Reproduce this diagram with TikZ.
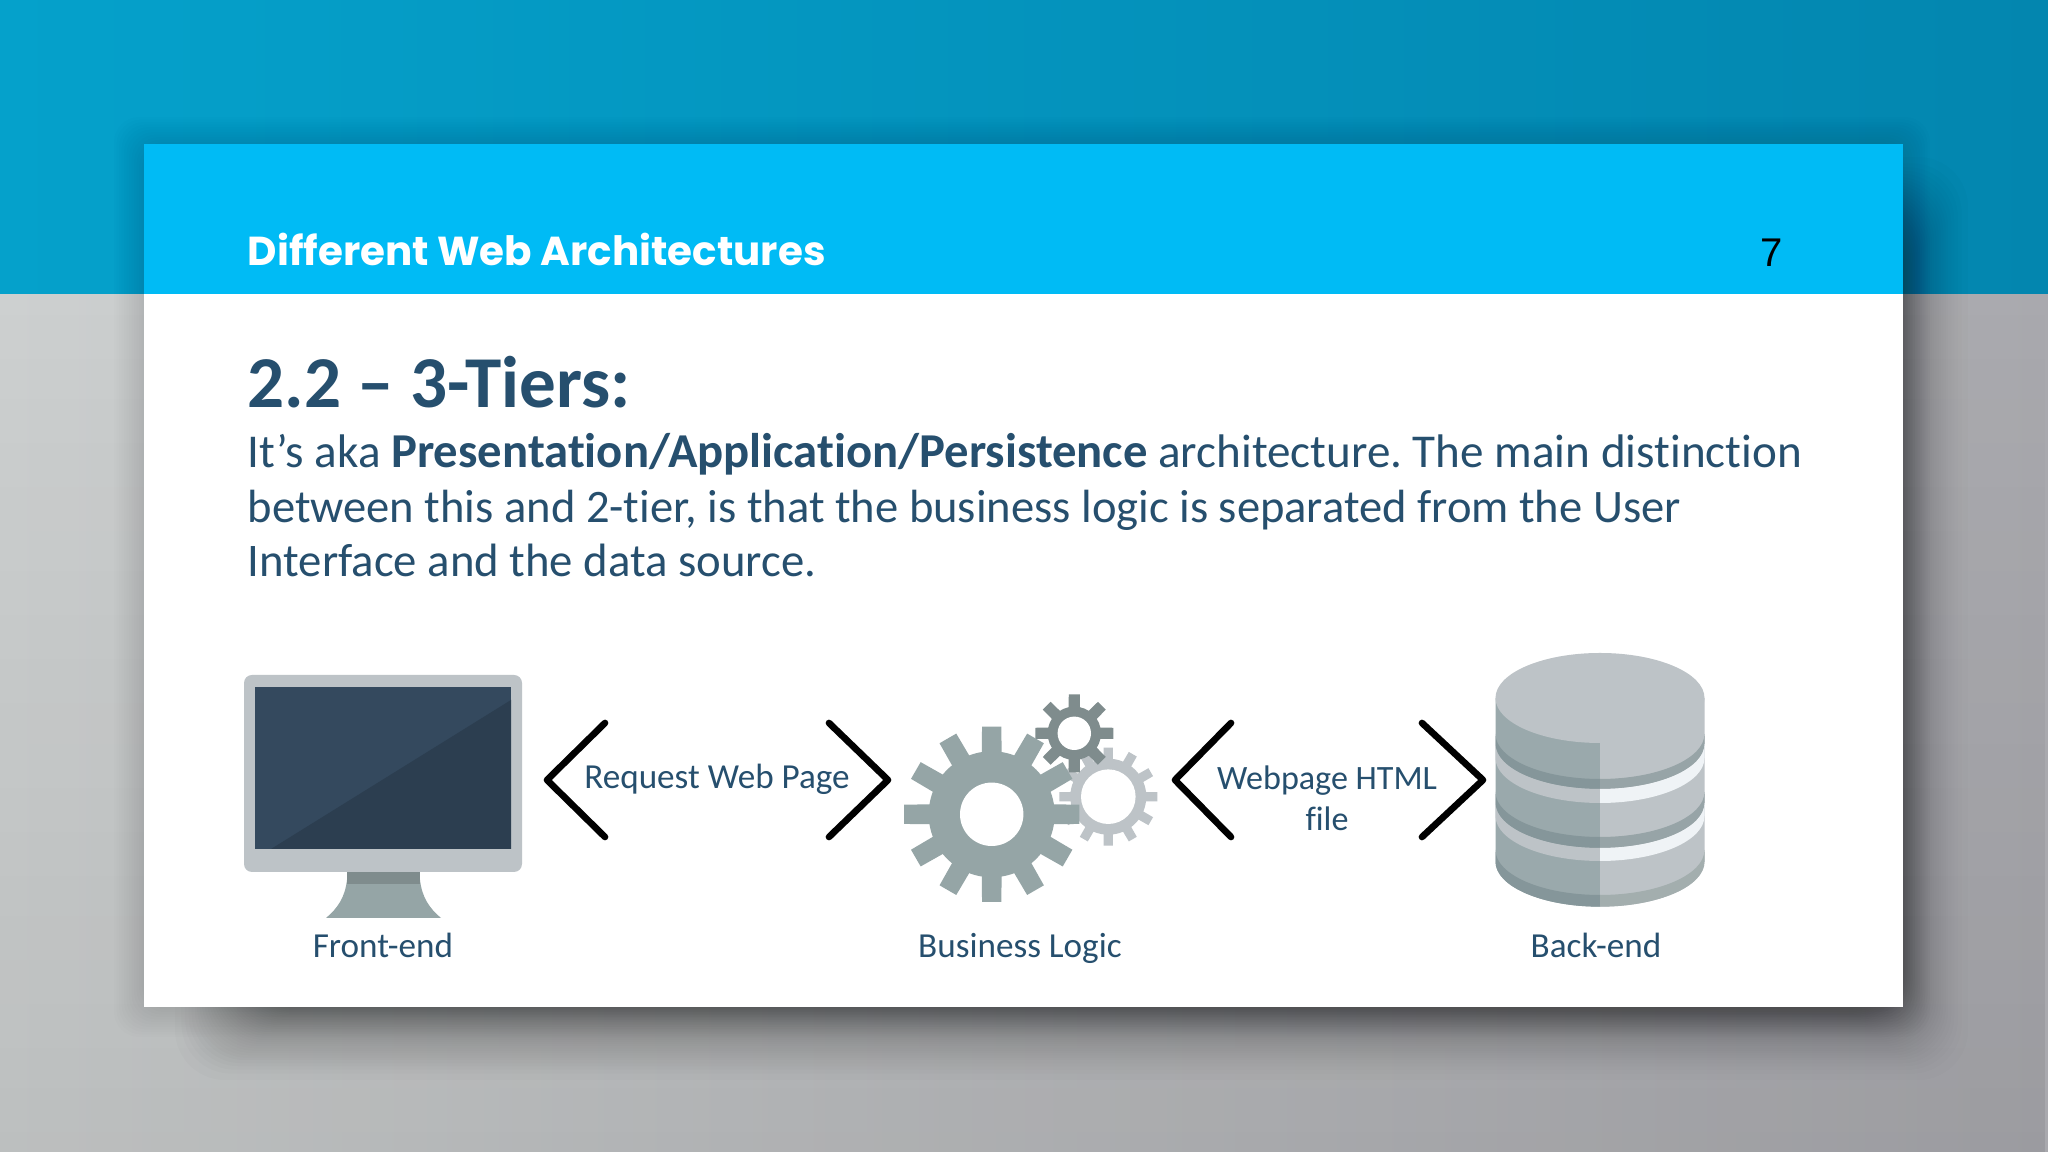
\documentclass[tikz,border=0pt]{standalone}
\usepackage{fontspec}
\usepackage{tikz}
\usetikzlibrary{fadings}
\setmainfont{Carlito}[Ligatures=NoCommon]
\newfontfamily\headerfont{Poppins}
\newfontfamily\pagefont{Liberation Sans}

\definecolor{teal left}{HTML}{05A1CB}
\definecolor{teal right}{HTML}{0386AF}
\definecolor{grey left}{HTML}{CDD0D0}
\definecolor{grey right}{HTML}{A9A9AE}
\definecolor{bar blue}{HTML}{00BBF5}
\definecolor{ink}{HTML}{264F6E}
\definecolor{frame grey}{HTML}{BDC3C7}
\definecolor{stand grey}{HTML}{95A5A6}
\definecolor{neck grey}{HTML}{7F8C8D}
\definecolor{screen light}{HTML}{34495E}
\definecolor{screen dark}{HTML}{2C3E50}
\definecolor{band white}{HTML}{EFF3F6}
\definecolor{drum left}{HTML}{9AA9AC}
\definecolor{drum dark}{HTML}{85969A}
\definecolor{drum mid}{HTML}{97A4A7}
\definecolor{drum foot}{HTML}{A3AEAE}

\tikzset{
    plain text/.style={inner sep=0pt,anchor=base,text=ink,font=\fontsize{10}{10}\selectfont},
    left text/.style={inner sep=0pt,anchor=base west,text=ink},
    body text/.style={left text,font=\fontsize{13.3}{15.6}\selectfont\frenchspacing},
    chevron/.style={draw=black,line width=1.9pt,line cap=round,line join=round}
}

% centre x, centre y, tip radius, root radius, hole radius, teeth, half width, colour
\newcommand{\gearshape}[8]{
    \fill[#8] (#1,#2) circle[radius=#4];
    \foreach \k in {1,...,#6}{
        \fill[#8,rotate around={360/#6*\k:(#1,#2)}]
            (#1-#7,#2) -- (#1-#7*.92,#2+#3) -- (#1+#7*.92,#2+#3) -- (#1+#7,#2) -- cycle;
    }
    \fill[white] (#1,#2) circle[radius=#5];
}

% start angle, end angle, ellipse centre y, height, colour
\newcommand{\drumstrip}[5]{
    \fill[#5]
        (16,#3) ++(#1:1.045 and .45)
        arc[start angle=#1,end angle=#2,x radius=1.045,y radius=.45]
        -- ++(0,#4)
        arc[start angle=#2,end angle=#1,x radius=1.045,y radius=.45]
        -- cycle;
}

\begin{document}
\begin{tikzpicture}
    \useasboundingbox (0,0) rectangle (20.48,11.52);
    % background
    \shade[left color=grey left,right color=grey right]
        (0,0) rectangle (20.48,8.58);
    \fill[black,path fading=north,fill opacity=.08]
        (0,0) rectangle (20.48,8.58);
    \shade[left color=teal left,right color=teal right]
        (0,8.58) rectangle (20.48,11.52);
    % shadow of the card
    \foreach \i in {0,...,11}{
        \fill[black,fill opacity=.007,rounded corners=.25cm]
            (1.14+.025*\i,1.15+.025*\i) rectangle (19.3-.025*\i,10.35-.025*\i);
    }
    \foreach \i in {0,...,39}{
        \pgfmathsetmacro\inset{.82*(\i/39)^.7}
        \fill[black,fill opacity=.0125,rounded corners=.5cm]
            (1.75+\inset,.72+\inset) rectangle (19.68-\inset,9.95-\inset);
    }
    % card
    \fill[white]
        (1.44,1.45) rectangle (19.03,8.58);
    \fill[bar blue]
        (1.44,8.58) rectangle (19.03,10.08);
    \node[inner sep=0pt,anchor=base west,text=white,font=\headerfont\bfseries\fontsize{11.5}{11.5}\selectfont] (header)
        at (2.47,8.86) {Different Web Architectures};
    \node[inner sep=0pt,text=black,font=\pagefont\fontsize{11.4}{11.4}\selectfont] (pagenum)
        at (17.715,8.995) {7};
    \node[left text,font=\bfseries\fontsize{20.8}{20.8}\selectfont] (heading)
        at (2.47,7.44) {2.2 -- 3-Tiers:};
    \node[body text,font=\fontsize{13.4}{15.6}\selectfont\frenchspacing] (lineone)
        at (2.47,6.845) {It’s aka \textbf{\fontsize{13.85}{15.6}\selectfont Presentation/Application/Persistence} architecture. The main distinction};
    \node[body text,font=\fontsize{13.25}{15.6}\selectfont\frenchspacing] (linetwo)
        at (2.47,6.295) {between this and 2-tier, is that the business logic is separated from the User};
    \node[body text] (linethree)
        at (2.47,5.755) {Interface and the data source.};
    % monitor
    \fill[stand grey]
        (3.47,2.72) .. controls (3.45,2.55) and (3.38,2.44) .. (3.26,2.34)
        -- (4.41,2.34) .. controls (4.29,2.44) and (4.22,2.55) .. (4.20,2.72) -- cycle;
    \fill[neck grey]
        (3.47,2.80) rectangle (4.20,2.68);
    \fill[frame grey,rounded corners=.08cm]
        (2.44,2.80) rectangle (5.22,4.77);
    \fill[screen light]
        (2.55,3.03) rectangle (5.11,4.65);
    \fill[screen dark]
        (2.71,3.03) -- (5.11,4.52) -- (5.11,3.03) -- cycle;
    % chevrons
    \draw[chevron]
        (6.05,4.29) -- (5.47,3.72) -- (6.05,3.15);
    \draw[chevron]
        (8.29,4.29) -- (8.88,3.72) -- (8.29,3.15);
    \draw[chevron]
        (12.31,4.29) -- (11.75,3.72) -- (12.31,3.15);
    \draw[chevron]
        (14.22,4.29) -- (14.83,3.72) -- (14.22,3.15);
    \node[plain text] (request)
        at (7.17,3.63) {Request Web Page};
    \node[inner sep=0pt,text=ink,align=center,font=\fontsize{9.7}{11.7}\selectfont] (webpage)
        at (13.27,3.54) {Webpage HTML\\file};
    % gears
    \gearshape{11.083}{3.553}{.49}{.38}{.273}{12}{.05}{frame grey}
    \gearshape{10.743}{4.187}{.39}{.267}{.167}{8}{.06}{neck grey}
    \gearshape{9.917}{3.377}{.876}{.63}{.317}{12}{.105}{stand grey}
    % database
    \fill[drum left]
        (14.955,4.54) -- (14.955,2.903)
        arc[start angle=180,end angle=270,x radius=1.045,y radius=.45]
        -- (16,4.54) -- cycle;
    \fill[frame grey]
        (17.045,4.54) -- (17.045,2.903)
        arc[start angle=0,end angle=-90,x radius=1.045,y radius=.45]
        -- (16,4.54) -- cycle;
    \drumstrip{180}{270}{4.08}{.10}{drum dark}
    \drumstrip{180}{270}{3.94}{.14}{frame grey}
    \drumstrip{180}{270}{3.49}{.11}{drum dark}
    \drumstrip{180}{270}{3.36}{.13}{frame grey}
    \drumstrip{180}{270}{2.903}{.117}{drum dark}
    \drumstrip{270}{360}{4.08}{.10}{drum mid}
    \drumstrip{270}{360}{3.94}{.14}{band white}
    \drumstrip{270}{360}{3.49}{.11}{drum mid}
    \drumstrip{270}{360}{3.36}{.13}{band white}
    \drumstrip{270}{360}{2.903}{.117}{drum foot}
    \fill[frame grey]
        (16,4.54) ellipse[x radius=1.045,y radius=.45];
    % captions
    \node[plain text] (frontend)
        at (3.83,1.943) {Front-end};
    \node[plain text] (logic)
        at (10.20,1.943) {Business Logic};
    \node[plain text] (backend)
        at (15.96,1.943) {Back-end};
\end{tikzpicture}
\end{document}
